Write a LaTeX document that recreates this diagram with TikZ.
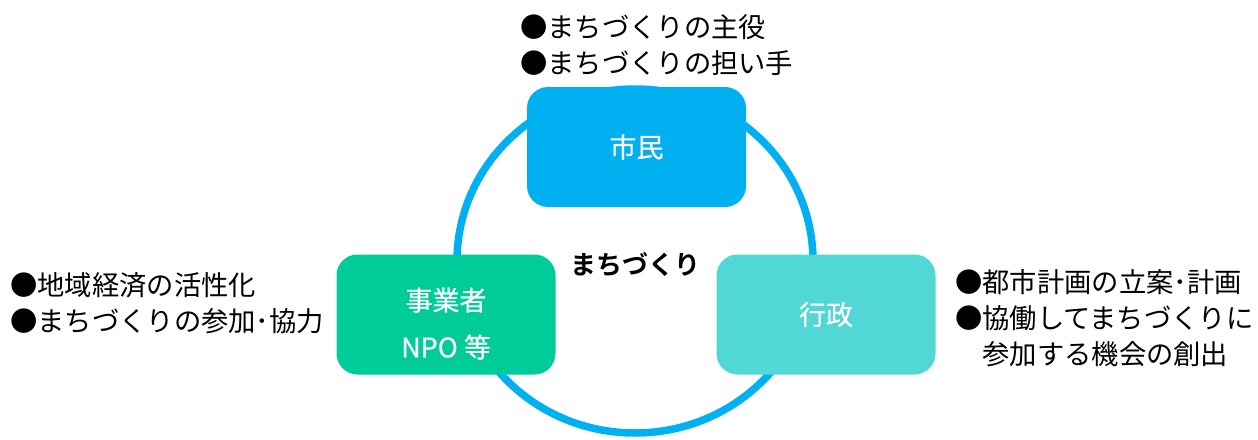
\documentclass[tikz,border=0pt]{standalone}
\usepackage{fontspec}
\setmainfont{Noto Sans CJK JP}
\newfontfamily\jpbold{Noto Sans CJK JP Bold}
\newfontfamily\jpmid[FakeBold=0.5]{Noto Sans CJK JP}
\usepackage{xcolor}
\definecolor{citizen}{HTML}{00B0F0}
\definecolor{business}{HTML}{00CC99}
\definecolor{admin}{HTML}{50D7D6}

\begin{document}
\begin{tikzpicture}[x=1pt, y=-1pt,
  actor/.style={rounded corners=21pt, minimum width=219pt, minimum height=120pt,
    text=white, align=center, inner sep=0pt, font=\jpmid\fontsize{27pt}{47pt}\selectfont},
  notes/.style={anchor=west, align=left, inner sep=0pt, text=black,
    font=\fontsize{27.3pt}{36pt}\selectfont},
  ring/.style={draw=citizen, line width=7.5pt}]

 \useasboundingbox (0,0) rectangle (1258,439);

 \coordinate (hub) at (635,261);
 \draw [ring] (hub) ellipse (178pt and 172pt);

 \node (center_label) at (635,265)
     {\jpbold\fontsize{26pt}{30pt}\selectfont まちづくり};

 \node [actor, fill=citizen] (citizen) at (636.5,147)
     {市民};

 \node [actor, fill=business] (business) at (446,314.5)
     {\rule{0pt}{0pt}\\[-6pt]事業者\\NPO 等};

 \node [actor, fill=admin] (admin) at (826,314.5)
     {行政};

 \node [notes] (citizen_roles) at (520,45)
     {●まちづくりの主役\\●まちづくりの担い手};

 \node [notes] (business_roles) at (10,303)
     {●地域経済の活性化\\●まちづくりの参加･協力};

 \node [notes] (admin_roles) at (955,318)
     {●都市計画の立案･計画\\●協働してまちづくりに\\\phantom{●}参加する機会の創出};

\end{tikzpicture}
\end{document}
